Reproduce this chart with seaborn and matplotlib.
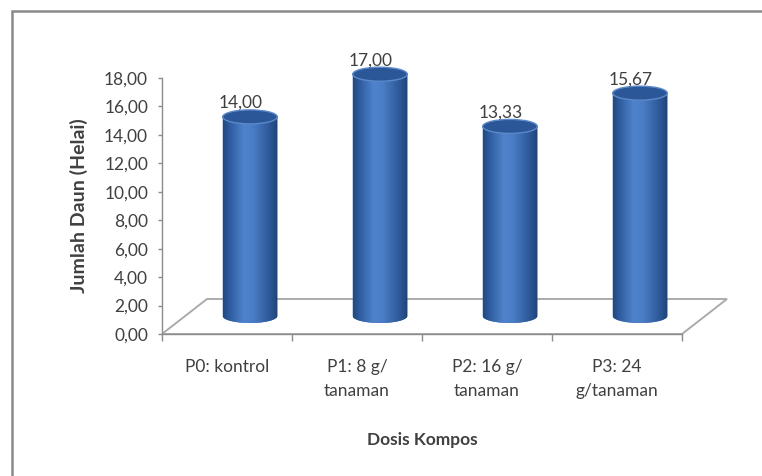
import numpy as np
import pandas as pd
import matplotlib
matplotlib.use("Agg")
import matplotlib.pyplot as plt
import seaborn as sns
from matplotlib.transforms import ScaledTranslation
from matplotlib.patches import Ellipse, Polygon, Rectangle
from matplotlib.colors import LinearSegmentedColormap

# Data
categories = ["P0: kontrol", "P1: 8 g/\ntanaman", "P2: 16 g/\ntanaman", "P3: 24\ng/tanaman"]
values = [14.00, 17.00, 13.33, 15.67]
value_labels = ["14,00", "17,00", "13,33", "15,67"]
y_ticks = [0, 2, 4, 6, 8, 10, 12, 14, 16, 18]
y_tick_labels = ["0,00", "2,00", "4,00", "6,00", "8,00", "10,00", "12,00", "14,00", "16,00", "18,00"]
x_title = "Dosis Kompos"
y_title = "Jumlah Daun (Helai)"

sns.set_theme(style="white")
plt.rcParams["font.family"] = ["Lato", "DejaVu Sans"]

W, H = 762, 476
DPI = 100
fig = plt.figure(figsize=(W / DPI, H / DPI), dpi=DPI)
fig.patch.set_facecolor("white")

# plot area in pixels (0..18 on y)
ax_l, ax_r, ax_t, ax_b = 162, 682, 78, 334
ax_w, ax_h = ax_r - ax_l, ax_b - ax_t
ax = fig.add_axes([ax_l / W, 1 - ax_b / H, ax_w / W, ax_h / H])
ax.set_facecolor("none")

df = pd.DataFrame({x_title: categories, y_title: values})
sns.barplot(data=df, x=x_title, y=y_title, color="#3c6fb6", saturation=1,
            width=0.42, errorbar=None, ax=ax, zorder=3)
bars = list(ax.patches)

ax.set_ylim(0, 18)
ax.set_xlim(-0.5, 3.5)

# depth of the 3-D box and offset of the cylinders inside it
depth_dx, depth_dy = 45, 35
cyl_dx, cyl_dy = 23, 18
cyl_off = ax.transData + ScaledTranslation(cyl_dx / DPI, cyl_dy / DPI, fig.dpi_scale_trans)

# floor of the 3-D box
fx, fy = depth_dx / ax_w, depth_dy / ax_h
floor = Polygon([(0, 0), (1, 0), (1 + fx, fy), (fx, fy)], closed=True,
                transform=ax.transAxes, facecolor="white", edgecolor="#ababab",
                lw=1.4, zorder=1, clip_on=False)
ax.add_patch(floor)

cyl_cmap = LinearSegmentedColormap.from_list(
    "cyl", [(0.0, "#22487f"), (0.12, "#2f5c9f"), (0.38, "#4f83cc"),
            (0.55, "#4a7dc5"), (0.85, "#2d5898"), (1.0, "#1f4274")])
grad = np.linspace(0, 1, 256)[None, :]

px_per_unit = ax_h / 18.0
ell_h = 14 / px_per_unit

for bar in bars:
    x0, w, h = bar.get_x(), bar.get_width(), bar.get_height()
    cx = x0 + w / 2
    bar.set_transform(cyl_off)
    bar.set_edgecolor("none")
    bar.set_clip_on(False)
    # body outline: rectangle plus lower half of the base ellipse
    theta = np.linspace(0, -np.pi, 60)
    arc = np.column_stack([cx + (w / 2) * np.cos(theta), (ell_h / 2) * np.sin(theta)])
    body = Polygon(np.vstack([[(x0, h), (x0 + w, h)], arc]), closed=True,
                   transform=cyl_off, facecolor="#3c6fb6", edgecolor="none",
                   zorder=3, clip_on=False)
    ax.add_patch(body)
    im = ax.imshow(grad, extent=[x0, x0 + w, -ell_h, h], cmap=cyl_cmap,
                   aspect="auto", zorder=3.2, interpolation="bilinear")
    im.set_transform(cyl_off)
    im.set_clip_box(fig.bbox)
    im.set_clip_path(body)
    top = Ellipse((cx, h), w, ell_h, transform=cyl_off, facecolor="#2b5798",
                  edgecolor="#5b89c9", lw=1.0, zorder=4, clip_on=False)
    ax.add_patch(top)

ax.set_ylim(0, 18)
ax.set_xlim(-0.5, 3.5)

txt_color = "#404040"
axis_color = "#8c8c8c"

# value labels
lab_off = ax.transData + ScaledTranslation(14 / DPI, 27 / DPI, fig.dpi_scale_trans)
for i, (v, t) in enumerate(zip(values, value_labels)):
    ax.text(i, v, t, transform=lab_off, ha="center", va="baseline",
            fontsize=12.5, color=txt_color, zorder=6, clip_on=False)

# axes styling
for s in ["top", "right"]:
    ax.spines[s].set_visible(False)
for s in ["left", "bottom"]:
    ax.spines[s].set_color(axis_color)
    ax.spines[s].set_linewidth(1.0)
    ax.spines[s].set_zorder(2)

ax.set_yticks(y_ticks)
ax.set_yticklabels(y_tick_labels)
ax.set_xticks(range(len(categories)))
ax.set_xticklabels(categories, linespacing=1.6)
ax.set_xticks(np.arange(-0.5, len(categories), 1.0), minor=True)
ax.tick_params(axis="y", which="major", length=3, width=1, color=axis_color,
               direction="out", labelsize=12.5, labelcolor=txt_color, pad=7, left=True)
ax.tick_params(axis="x", which="major", length=0, labelsize=12.5,
               labelcolor=txt_color, pad=18)
ax.tick_params(axis="x", which="minor", length=5, width=1, color=axis_color,
               direction="out", bottom=True)

ax.set_xlabel(x_title, fontsize=12.5, fontweight="bold", color=txt_color, va="center")
ax.set_ylabel(y_title, fontsize=14, fontweight="bold", color=txt_color, va="center")
ax.xaxis.set_label_coords(0.5, (ax_b - 440) / ax_h)
ax.yaxis.set_label_coords((79 - ax_l) / ax_w, 0.5)

# chart frame
frame = Rectangle((12 / W, -0.1), 1.2, 1 - 11 / H + 0.1, transform=fig.transFigure,
                  facecolor="none", edgecolor="#8a8a8a", lw=1.8, zorder=0)
fig.patches.append(frame)

fig.savefig("out.png", dpi=DPI)
